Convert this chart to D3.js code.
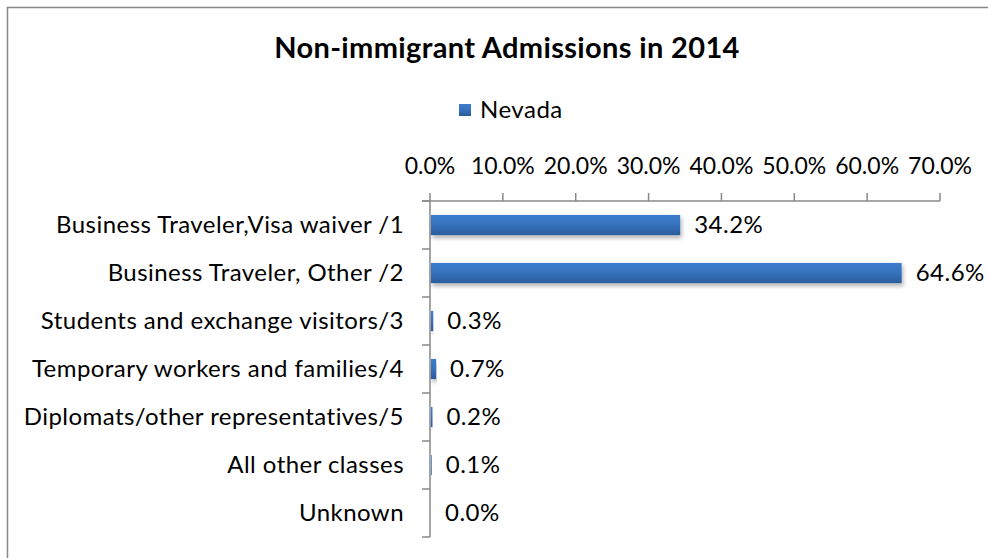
<!DOCTYPE html>
<html>
<head>
  <meta charset="utf-8">
  <title>Non-immigrant Admissions in 2014</title>
  <script src="https://d3js.org/d3.v7.min.js"></script>
  <style>
    body { margin: 0; background: #fff; }
    text { font-family: Lato, "Open Sans", sans-serif; fill: #000; }
  </style>
</head>
<body>
  <div id="vis"></div>
  <script>
    const categories = [
      "Business Traveler,Visa waiver /1",
      "Business Traveler, Other /2",
      "Students and exchange visitors/3",
      "Temporary workers and families/4",
      "Diplomats/other representatives/5",
      "All other classes",
      "Unknown"
    ]
    const values = [34.2, 64.6, 0.3, 0.7, 0.2, 0.1, 0.0]
    const ticks = [0, 10, 20, 30, 40, 50, 60, 70]
    const seriesName = "Nevada"

    const width = 988
    const height = 558

    const svg = d3.select("#vis")
      .append("svg")
      .attr("width", width)
      .attr("height", height)

    const defs = svg.append("defs")
    const grad = defs.append("linearGradient")
      .attr("id", "barGrad")
      .attr("x1", 0).attr("y1", 0).attr("x2", 0).attr("y2", 1)
    grad.append("stop").attr("offset", "0%").attr("stop-color", "#3d7dcc")
    grad.append("stop").attr("offset", "50%").attr("stop-color", "#3672bd")
    grad.append("stop").attr("offset", "100%").attr("stop-color", "#2b5a9b")

    const shadow = defs.append("filter").attr("id", "shadow")
      .attr("x", "-5%").attr("y", "-20%").attr("width", "120%").attr("height", "180%")
    shadow.append("feDropShadow")
      .attr("dx", 1.5).attr("dy", 3).attr("stdDeviation", 2)
      .attr("flood-color", "#000").attr("flood-opacity", 0.3)

    // chart border (only top and left are inside the frame)
    svg.append("rect")
      .attr("x", 7.5).attr("y", 7.5)
      .attr("width", 1200).attr("height", 800)
      .attr("fill", "none")
      .attr("stroke", "#878787")
      .attr("stroke-width", 1.5)

    svg.append("text")
      .attr("x", 507).attr("y", 58)
      .attr("text-anchor", "middle")
      .style("font-size", "29px")
      .style("font-weight", "bold")
      .style("letter-spacing", "0.35px")
      .text("Non-immigrant Admissions in 2014")

    // legend
    svg.append("rect")
      .attr("x", 459).attr("y", 104)
      .attr("width", 12).attr("height", 12)
      .attr("fill", "url(#barGrad)")
    svg.append("text")
      .attr("x", 480).attr("y", 118)
      .style("font-size", "24px")
      .style("letter-spacing", "0.5px")
      .text(seriesName)

    const x = d3.scaleLinear().domain([0, 70]).range([430, 940])
    const y = d3.scaleBand().domain(categories).range([201, 537]).paddingInner(0.58).paddingOuter(0.29)

    // top axis
    const axisG = svg.append("g").attr("transform", "translate(0,201)")
    axisG.append("line")
      .attr("x1", 422).attr("x2", x(70))
      .attr("stroke", "#888").attr("stroke-width", 1.5)
    axisG.selectAll(".tick")
      .data(ticks)
      .join("line")
      .attr("x1", d => x(d)).attr("x2", d => x(d))
      .attr("y1", -8).attr("y2", 0)
      .attr("stroke", "#888").attr("stroke-width", 1.5)
    axisG.selectAll(".tl")
      .data(ticks)
      .join("text")
      .attr("x", d => x(d)).attr("y", -27)
      .attr("text-anchor", "middle")
      .style("font-size", "23px")
      .text(d => d.toFixed(1) + "%")

    // left axis
    const bounds = d3.range(categories.length + 1).map(i => 201 + i * (336 / categories.length))
    svg.append("line")
      .attr("x1", x(0)).attr("x2", x(0))
      .attr("y1", 201).attr("y2", 537)
      .attr("stroke", "#888").attr("stroke-width", 1.5)
    svg.selectAll(".ytick")
      .data(bounds)
      .join("line")
      .attr("x1", 422).attr("x2", x(0))
      .attr("y1", d => d).attr("y2", d => d)
      .attr("stroke", "#888").attr("stroke-width", 1.5)

    svg.selectAll(".cat")
      .data(categories)
      .join("text")
      .attr("x", 404)
      .attr("y", d => y(d) + y.bandwidth() / 2 + 8)
      .attr("text-anchor", "end")
      .style("font-size", "24px")
      .style("letter-spacing", "0.45px")
      .text(d => d)

    svg.selectAll(".bar")
      .data(values)
      .join("rect")
      .attr("x", x(0) + 1)
      .attr("y", (d, i) => y(categories[i]))
      .attr("width", d => Math.max(0, x(d) - x(0)))
      .attr("height", y.bandwidth())
      .attr("fill", "url(#barGrad)")
      .attr("filter", d => d > 0 ? "url(#shadow)" : null)

    svg.selectAll(".val")
      .data(values)
      .join("text")
      .attr("x", d => x(d) + 15)
      .attr("y", (d, i) => y(categories[i]) + y.bandwidth() / 2 + 8)
      .style("font-size", "24px")
      .style("letter-spacing", "0.5px")
      .text(d => d.toFixed(1) + "%")
  </script>
</body>
</html>
